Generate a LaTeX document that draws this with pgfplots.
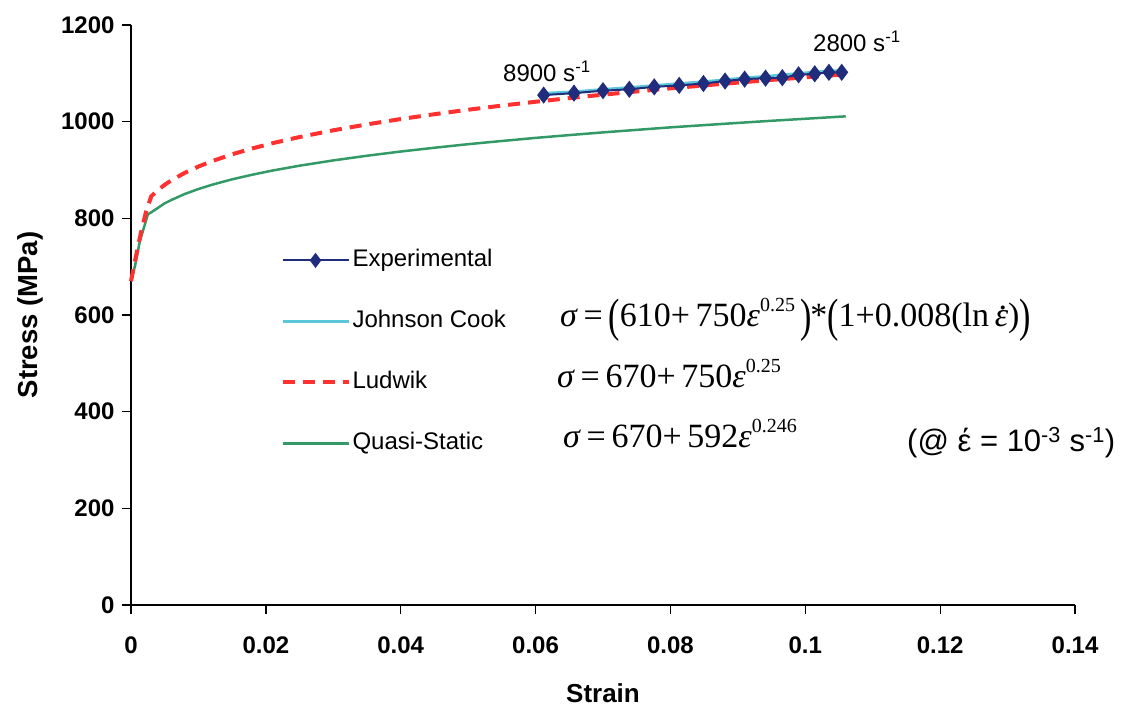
\documentclass[border=0pt]{standalone}
\usepackage{pgfplots}
\pgfplotsset{compat=1.18}
\usepackage{graphicx}
\usepackage{fontspec}
\setmainfont{Liberation Sans}
\newfontfamily\timesf{Liberation Serif}

\definecolor{expblue}{HTML}{202C7C}
\definecolor{jccyan}{HTML}{5CC6DA}
\definecolor{ludred}{HTML}{FF3030}
\definecolor{qsgreen}{HTML}{339966}

% tall bracket, small exponent and eps-dot for the formulas
\newcommand{\bp}[1]{\raisebox{-0.13em}{\scalebox{1}[1.38]{#1}}}
\newcommand{\ex}[1]{\raisebox{0.46em}{\fontsize{20}{22}\selectfont #1}}
\newcommand{\epsdot}{\ooalign{\textit{ε}\cr\hidewidth\raisebox{0.52em}{\kern0.08em.}\hidewidth\cr}}

\begin{document}
\begin{tikzpicture}[x=1pt,y=1pt]
\begin{axis}[
    at={(131pt,103pt)}, anchor=south west,
    scale only axis,
    width=944pt, height=580pt,
    xmin=0, xmax=0.14,
    ymin=0, ymax=1200,
    xtick={0,0.02,0.04,0.06,0.08,0.1,0.12,0.14},
    ytick={0,200,400,600,800,1000,1200},
    scaled x ticks=false,
    /pgf/number format/fixed,
    /pgf/number format/precision=2,
    /pgf/number format/1000 sep={},
    /pgf/number format/assume math mode=true,
    axis lines=left,
    axis line style={-, line width=1.3pt},
    tick align=outside,
    major tick length=9pt,
    tick style={line width=1.3pt, black},
    ticklabel style={font=\fontsize{24}{28}\selectfont\bfseries},
    xticklabel style={yshift=-19pt},
    yticklabel style={xshift=-4pt},
    xlabel={Strain},
    ylabel={Stress (MPa)},
    xlabel style={at={(axis description cs:0.5,-0.1517)}, anchor=center, font=\fontsize{26}{30}\selectfont\bfseries},
    ylabel style={at={(axis description cs:-0.107,0.5)}, anchor=center, font=\fontsize{27.5}{30}\selectfont\bfseries},
    legend style={draw=none, fill=none, at={(0.155,0.622)}, anchor=north west,
        font=\fontsize{24}{28}\selectfont, row sep=33pt,
        nodes={inner sep=2pt, text height=18pt, text depth=6pt}},
    legend cell align=left,
    legend image code/.code={\draw[mark repeat=2,mark phase=2,#1] plot coordinates {(0pt,0pt) (33pt,0pt) (66pt,0pt)};},
    clip=false,
]
\addlegendimage{expblue, line width=2pt, mark=diamond*, mark size=6pt, mark options={solid, fill=expblue}}
\addlegendentry{Experimental}
\addlegendimage{jccyan, line width=2.5pt}
\addlegendentry{Johnson Cook}
\addlegendimage{ludred, line width=4pt, dash pattern=on 12pt off 8pt}
\addlegendentry{Ludwik}
\addlegendimage{qsgreen, line width=2.5pt}
\addlegendentry{Quasi-Static}

% quasi-static
\addplot[qsgreen, line width=2.5pt, forget plot] coordinates {
(0,670) (0.0006,702) (0.0013,752) (0.0025,808) (0.0035,817) (0.005,831)
(0.006,838) (0.008,850.5) (0.010,860.6) (0.012,869.4)
(0.015,880.7) (0.018,890.3) (0.021,898.9) (0.025,908.9) (0.03,919.8)
(0.035,929.5) (0.04,938.2) (0.045,946) (0.05,953.4) (0.055,960)
(0.06,966.4) (0.065,972.2) (0.07,977.8) (0.075,983) (0.08,988.2)
(0.085,992.8) (0.09,997.4) (0.095,1001.8) (0.1,1006) (0.106,1011)
};
% Ludwik
\addplot[ludred, line width=4pt, dash pattern=on 12pt off 8pt, forget plot] coordinates {
(0,670) (0.0006,712) (0.0015,772) (0.0022,812) (0.003,845.5) (0.004,858.6)
(0.005,869.4) (0.006,878.7) (0.008,894.3) (0.010,907.1) (0.012,918.2)
(0.015,932.5) (0.018,944.7) (0.021,955.5) (0.025,968.2) (0.03,982.1)
(0.035,994.4) (0.04,1005.4) (0.045,1015.4) (0.05,1024.7) (0.055,1033.2)
(0.06,1041.2) (0.065,1048.7) (0.07,1055.8) (0.075,1062.5) (0.08,1068.9)
(0.085,1075) (0.09,1080.8) (0.095,1086.4) (0.1,1091.7) (0.106,1098)
};
% Johnson Cook
\addplot[jccyan, line width=2.5pt, forget plot] coordinates {
(0.0612,1059) (0.0657,1062) (0.0700,1067) (0.0739,1071) (0.0776,1075)
(0.0813,1079) (0.0849,1083) (0.0881,1087) (0.0910,1091) (0.0941,1094)
(0.0966,1097) (0.0990,1100) (0.1014,1103) (0.1035,1105) (0.1054,1106)
};
% experimental
\addplot[expblue, line width=2pt, mark=diamond*, mark size=7pt, mark options={fill=expblue}, forget plot] coordinates {
(0.0612,1055) (0.0657,1059) (0.0700,1064) (0.0739,1067) (0.0776,1072)
(0.0813,1075) (0.0849,1079) (0.0881,1084) (0.0910,1088) (0.0941,1090)
(0.0966,1091) (0.0990,1097) (0.1014,1099) (0.1035,1102) (0.1054,1102)
};
\end{axis}

\node[anchor=base west, inner sep=0pt, font=\fontsize{24}{28}\selectfont] at (503,626) {8900 s\textsuperscript{-1}};
\node[anchor=base west, inner sep=0pt, font=\fontsize{24}{28}\selectfont] at (813,656) {2800 s\textsuperscript{-1}};

\node[anchor=base west, inner sep=0pt, font=\fontsize{34}{40}\selectfont\timesf] at (560,381)
  {\textit{σ}\,=\,\bp{(}610+\,750\textit{ε}\ex{0.25}\,\bp{)}\kern-0.05em*\bp{(}1+0.008(ln\,\epsdot)\bp{)}};
\node[anchor=base west, inner sep=0pt, font=\fontsize{34}{40}\selectfont\timesf] at (557,320)
  {\textit{σ}\,=\,670+\,750\textit{ε}\ex{0.25}};
\node[anchor=base west, inner sep=0pt, font=\fontsize{34}{40}\selectfont\timesf] at (563,260)
  {\textit{σ}\,=\,670+\,592\textit{ε}\ex{0.246}};
\node[anchor=base west, inner sep=0pt, font=\fontsize{31}{34}\selectfont] at (907,256)
  {(@ έ = 10\textsuperscript{-3} s\textsuperscript{-1})};

\pgfresetboundingbox
\path (0,0) rectangle (1129,708);
\end{tikzpicture}
\end{document}
